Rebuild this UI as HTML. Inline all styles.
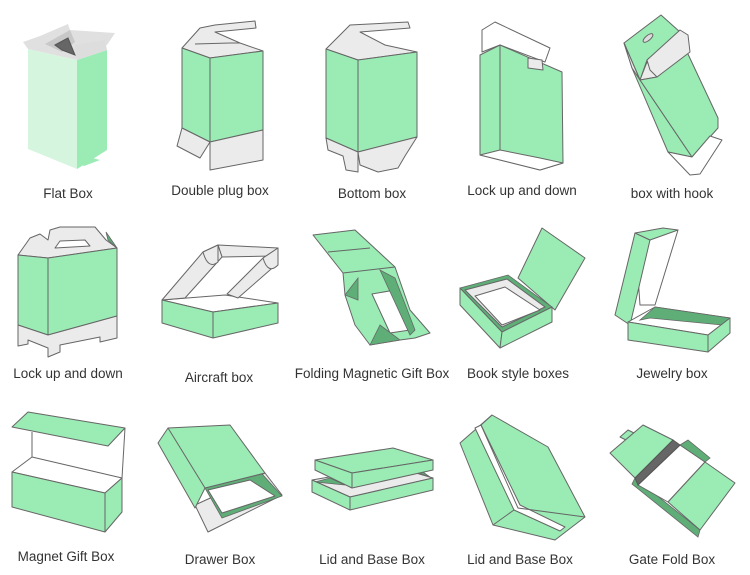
<!DOCTYPE html>
<html><head><meta charset="utf-8"><style>
body{margin:0;background:#fff}
svg{display:block}
text{font-family:"Liberation Sans",sans-serif;font-size:13.5px;fill:#333;text-anchor:middle}
.g{fill:#9aebb4;stroke:#666;stroke-width:1;stroke-linejoin:round}
.l{fill:#d6f5df;stroke:none}
.w{fill:#fff;stroke:#666;stroke-width:1;stroke-linejoin:round}
.y{fill:#ebebeb;stroke:#666;stroke-width:1;stroke-linejoin:round}
.d{fill:#5fae78;stroke:#666;stroke-width:.8}
.k{fill:#666;stroke:#555}
.n{fill:none;stroke:#666;stroke-width:1}
</style></head><body>
<svg width="750" height="575" viewBox="0 0 750 575">
<!-- Flat box -->
<polygon class="l" points="28,49 77,60 77,169 28,149"/>
<polygon class="g" style="stroke:none" points="77,60 107,50 107,150 77,169"/>
<polygon fill="#e0e0e0" points="23,42 40,36 68,24 70,30 115,33 107,45 77,60 28,49"/>
<polygon fill="#c8c8c8" points="45,44 70,30 75,42 62,52"/>
<polygon class="k" points="55,45 68,38 75,55 62,50"/>
<polygon fill="#ddd" points="75,45 105,40 107,50 77,60"/>
<polygon fill="#9aebb4" points="80,164 92,158 100,160 84,166"/>
<!-- Double plug -->
<polygon class="y" points="182,48 200,28 215,25 255,21 256,28 215,32 240,43 263,51 210,58"/>
<polyline class="n" points="195,44 230,43 240,43"/>
<polygon class="g" points="182,48 210,58 210,142 182,128"/>
<polygon class="g" points="210,58 263,51 263,130 210,142"/>
<polygon class="y" points="182,128 177,146 200,158 210,142"/>
<polygon class="y" points="210,142 210,170 263,160 263,130"/>
<!-- Bottom box -->
<polygon class="y" points="326,49 350,25 408,22 410,28 360,32 385,45 417,52 358,60"/>
<polygon class="g" points="326,49 358,60 358,152 326,138"/>
<polygon class="g" points="358,60 417,52 417,137 358,152"/>
<polygon class="y" points="326,138 328,150 343,156 346,170 358,172 358,152"/>
<polygon class="y" points="358,152 360,165 378,172 398,168 405,156 417,137"/>
<!-- Lock up and down -->
<polygon class="w" points="482,30 495,22 550,48 545,62 500,45 482,52"/>
<polygon class="g" points="480,55 500,45 562,72 563,163 540,170 480,155"/>
<polyline class="n" points="500,45 500,150"/>
<polygon class="w" points="480,155 500,150 540,158 563,163 540,170"/>
<polygon class="y" points="528,58 542,60 543,70 528,68"/>
<!-- box with hook -->
<polygon class="g" points="624,43 661,15 680,32 647,60 640,80"/>
<polygon class="g" points="624,43 640,80 692,157 668,152 632,68"/>
<polygon class="y" points="632,68 624,43 640,80"/>
<polygon class="y" points="640,80 647,62 657,77"/>
<polygon class="g" points="640,80 657,77 687,52 718,118 718,128 692,157"/>
<polygon class="y" points="647,60 680,30 688,35 690,52 657,77 650,70"/>
<polygon class="w" points="692,157 710,136 722,140 700,174 690,175 668,152"/>
<ellipse cx="648" cy="38" rx="6" ry="2.5" transform="rotate(-40 648 38)" fill="#ddd" stroke="#666"/>
<!-- Handle box -->
<polygon class="y" points="18,255 30,238 40,234 48,240 50,230 60,227 95,227 106,240 117,248 48,258"/>
<polygon class="w" points="55,248 60,241 85,240 90,246"/>
<polygon class="d" points="106,232 117,248 108,240"/>
<polygon class="g" points="18,255 48,258 48,335 18,325"/>
<polygon class="g" points="48,258 117,248 117,316 48,335"/>
<polygon class="y" points="18,325 18,346 28,344 28,340 48,348 48,357 60,352 60,345 100,337 100,342 117,338 117,316 48,335"/>
<!-- Aircraft -->
<polygon class="w" points="162,300 225,295 278,303 213,312"/>
<polygon class="y" points="218,245 278,248 272,256 222,257"/>
<polygon class="y" points="162,300 203,252 218,245 222,257 185,298"/>
<path class="y" d="M203,252 Q208,270 218,262 L218,245 Z"/>
<polygon class="y" points="227,294 263,258 278,248 278,263 238,298"/>
<path class="y" d="M263,258 Q268,275 278,265 L278,248 Z"/>
<polygon class="g" points="162,300 213,312 213,338 162,323"/>
<polygon class="g" points="213,312 278,303 278,323 213,338"/>
<!-- Folding magnetic -->
<polygon class="g" points="313,235 355,230 395,267 410,310 430,333 415,338 400,340 370,345 355,325 345,295 343,273"/>
<polyline class="n" points="343,273 395,267"/>
<polyline class="n" points="328,252 370,248"/>
<polygon class="w" points="372,294 395,290 410,330 390,333"/>
<polygon class="d" points="345,295 358,278 358,300"/>
<polygon class="d" points="380,270 395,278 415,330 410,335"/>
<polygon class="d" points="370,345 380,325 400,340"/>
<!-- Book style -->
<polygon class="g" points="518,278 542,228 585,258 555,310"/>
<polygon class="d" points="460,288 508,275 552,307 502,332"/>
<polygon class="y" points="465,290 507,279 545,307 502,327"/>
<polygon class="w" points="475,296 505,287 540,310 502,325"/>
<polygon class="g" points="460,288 460,305 500,348 502,332"/>
<polygon class="g" points="502,332 500,348 552,322 552,307"/>
<!-- Jewelry -->
<polygon class="w" points="635,233 678,230 655,305 640,305"/>
<polygon class="g" points="615,315 635,233 650,240 630,325"/>
<polygon class="g" points="635,233 663,228 678,230 650,240"/>
<polygon class="w" points="628,322 655,307 730,318 708,335"/>
<polygon class="d" points="640,320 655,307 730,318 722,325 650,318"/>
<polygon class="g" points="628,322 628,340 708,352 708,335"/>
<polygon class="g" points="708,335 708,352 730,333 730,318"/>
<!-- Magnet gift -->
<polyline class="n" points="32,457 32,432"/>
<polyline class="n" points="122,478 125,428"/>
<polygon class="g" points="12,427 28,412 125,428 108,446"/>
<polygon class="w" points="12,472 32,457 122,478 105,493"/>
<polygon class="g" points="12,472 105,493 105,532 12,507"/>
<polygon class="g" points="105,493 122,478 122,512 105,532"/>
<!-- Drawer -->
<polygon class="y" points="195,505 208,532 282,495 265,473"/>
<polygon class="d" points="205,488 262,474 282,496 222,518"/>
<polygon class="w" points="208,490 250,480 275,496 222,513"/>
<polygon class="g" points="158,443 168,428 230,425 265,473 205,488 195,508"/>
<polyline class="n" points="168,428 205,488"/>
<!-- Lid and base -->
<polygon class="y" points="312,480 392,466 433,478 350,497"/>
<polygon class="d" points="315,482 330,478 345,485"/>
<polygon class="d" points="405,468 420,470 430,477"/>
<polygon class="g" points="312,480 312,492 350,510 350,497"/>
<polygon class="g" points="350,497 350,510 433,490 433,478"/>
<polygon class="g" points="315,460 393,448 433,460 352,473"/>
<polygon class="g" points="315,460 315,470 352,488 352,473"/>
<polygon class="g" points="352,473 352,488 433,470 433,460"/>
<!-- Lid and base 2 -->
<polygon class="g" points="460,443 492,415 548,447 585,517 555,540 493,525"/>
<polygon class="w" points="475,428 481,425 520,505 565,527 560,531 514,510"/>
<polyline class="n" points="481,425 518,508 585,517"/>
<polyline class="n" points="492,415 481,425"/>
<polyline class="n" points="493,525 514,510"/>
<!-- Gate fold -->
<polygon class="g" points="620,437 628,430 634,433 626,440"/>
<polygon class="d" points="635,478 700,530 698,537 632,484"/>
<polygon class="w" points="638,485 680,445 705,462 668,502"/>
<polygon class="d" points="680,445 688,440 710,458 705,462"/>
<polygon class="g" points="610,453 643,425 673,440 635,478"/>
<polygon class="k" points="635,478 673,440 680,445 638,485"/>
<polygon class="g" points="668,502 705,462 735,483 700,530"/>
<!-- labels -->
<text x="68" y="198">Flat Box</text>
<text x="220" y="195">Double plug box</text>
<text x="372" y="198">Bottom box</text>
<text x="522" y="195">Lock up and down</text>
<text x="672" y="198">box with hook</text>
<text x="68" y="378">Lock up and down</text>
<text x="219" y="382">Aircraft box</text>
<text x="372" y="378">Folding Magnetic Gift Box</text>
<text x="518" y="378">Book style boxes</text>
<text x="672" y="378">Jewelry box</text>
<text x="66" y="561">Magnet Gift Box</text>
<text x="220" y="564">Drawer Box</text>
<text x="372" y="564">Lid and Base Box</text>
<text x="520" y="564">Lid and Base Box</text>
<text x="672" y="564">Gate Fold Box</text>
</svg>
</body></html>
